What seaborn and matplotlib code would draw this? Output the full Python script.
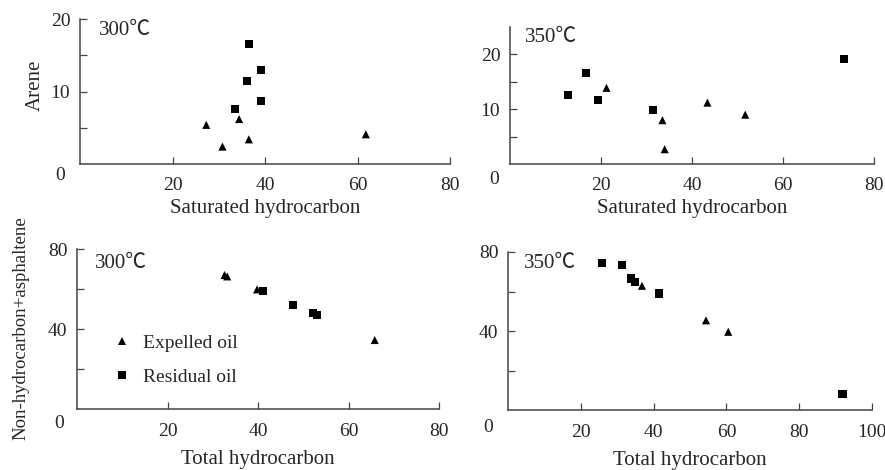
import pandas as pd
import numpy as np
import matplotlib
matplotlib.use("Agg")
import matplotlib.pyplot as plt
import seaborn as sns

# 300 C, arene vs saturated hydrocarbon
sat300_exp = [27.3, 30.8, 34.4, 36.5, 61.8]
are300_exp = [5.4, 2.4, 6.2, 3.4, 4.1]
sat300_res = [33.5, 36.1, 36.6, 39.2, 39.2]
are300_res = [7.6, 11.5, 16.6, 13.0, 8.7]

# 350 C, arene vs saturated hydrocarbon
sat350_exp = [21.2, 33.5, 34.0, 43.4, 51.7]
are350_exp = [13.9, 8.0, 2.7, 11.2, 9.0]
sat350_res = [12.7, 16.8, 19.4, 31.4, 73.5]
are350_res = [12.6, 16.6, 11.6, 9.8, 19.1]

# 300 C, non-hydrocarbon+asphaltene vs total hydrocarbon
tot300_exp = [32.6, 33.2, 39.8, 65.8]
non300_exp = [67.0, 66.3, 59.8, 34.5]
tot300_res = [41.1, 47.8, 52.2, 53.1]
non300_res = [59.0, 52.0, 48.2, 46.8]

# 350 C, non-hydrocarbon+asphaltene vs total hydrocarbon
tot350_exp = [36.8, 54.4, 60.5]
non350_exp = [62.9, 45.4, 39.6]
tot350_res = [25.8, 31.3, 33.8, 35.0, 41.4, 91.9]
non350_res = [74.5, 73.2, 66.6, 64.9, 59.0, 8.1]

oil_types = ["Expelled oil", "Residual oil"]


def make_frame(x_exp, y_exp, x_res, y_res):
    """Build a long-form table for one panel."""
    return pd.DataFrame({
        "x": list(x_exp) + list(x_res),
        "y": list(y_exp) + list(y_res),
        "Oil": [oil_types[0]] * len(x_exp) + [oil_types[1]] * len(x_res),
    })


sns.set_style("ticks")
plt.rcParams["font.family"] = ["Liberation Serif", "Noto Sans CJK SC"]

fig = plt.figure(figsize=(8.85, 4.7), dpi=100)

W, H = 885.0, 470.0


def add_axes(left, right, top, bottom):
    return fig.add_axes([left / W, 1 - bottom / H, (right - left) / W, (bottom - top) / H])


panels = [
    # frame, box(px), xlim, ylim, xticks, yticks, labelled yticks, temp, xlabel, ylabel,
    # ylabel (size, x, y), temp pos, "0" pos
    (make_frame(sat300_exp, are300_exp, sat300_res, are300_res),
     (80, 450, 19, 164), 80, 20, [20, 40, 60, 80], [5, 10, 15, 20], [10, 20],
     "300℃", "Saturated hydrocarbon", "Arene", (15, -0.095, 0.545),
     (0.05, 0.92), (60, 176)),
    (make_frame(sat350_exp, are350_exp, sat350_res, are350_res),
     (510, 874, 27, 164), 80, 25, [20, 40, 60, 80], [5, 10, 15, 20], [10, 20],
     "350℃", "Saturated hydrocarbon", "", None, (0.04, 0.925), (494, 180)),
    (make_frame(tot300_exp, non300_exp, tot300_res, non300_res),
     (77, 439, 249, 409), 80, 80, [20, 40, 60, 80], [20, 40, 60, 80], [40, 80],
     "300℃", "Total hydrocarbon", "Non-hydrocarbon+asphaltene", (13.5, -0.13, 0.503),
     (0.05, 0.91), (59, 423)),
    (make_frame(tot350_exp, non350_exp, tot350_res, non350_res),
     (508, 872, 252, 410), 100, 80, [20, 40, 60, 80, 100], [20, 40, 60, 80], [40, 80],
     "350℃", "Total hydrocarbon", "", None, (0.044, 0.93), (488, 427)),
]

marker_map = {"Expelled oil": "^", "Residual oil": "s"}

for i, (df, box, xmax, ymax, xt, yt, ylab_t, temp, xlabel, ylabel,
        ystyle, tpos, zpos) in enumerate(panels):
    ax = add_axes(*box)
    sns.scatterplot(data=df, x="x", y="y", style="Oil", markers=marker_map,
                    style_order=oil_types, color="black", s=34, linewidth=0,
                    legend=(i == 2), ax=ax)
    ax.set_xlim(0, xmax)
    ax.set_ylim(0, ymax)
    ax.set_xticks(xt)
    ax.set_yticks(yt)
    ax.set_yticklabels([str(v) if v in ylab_t else "" for v in yt])
    ax.tick_params(direction="in", length=5, width=0.9, color="#444444",
                   labelsize=14, pad=7)
    ax.tick_params(axis="x", pad=9 if i < 2 else 10)
    for side in ["top", "right"]:
        ax.spines[side].set_visible(False)
    for side in ["left", "bottom"]:
        ax.spines[side].set_linewidth(1.1)
        ax.spines[side].set_color("#444444")
    ax.set_xlabel(xlabel, fontsize=15, labelpad=4 if i < 2 else 7)
    if ystyle is not None:
        ax.set_ylabel(ylabel, fontsize=ystyle[0])
        ax.yaxis.set_label_coords(ystyle[1], ystyle[2])
    else:
        ax.set_ylabel("")
    ax.text(tpos[0], tpos[1], temp, transform=ax.transAxes, fontsize=15,
            ha="left", va="center")
    fig.text(zpos[0] / W, 1 - zpos[1] / H, "0", fontsize=14, ha="center", va="center")
    if i == 2:
        ax.legend(loc="center left", bbox_to_anchor=(0.021, 0.305), frameon=False,
                  fontsize=14, labelspacing=0.85, handletextpad=0.1,
                  markerscale=1.0)

fig.savefig("out.png", dpi=100)
